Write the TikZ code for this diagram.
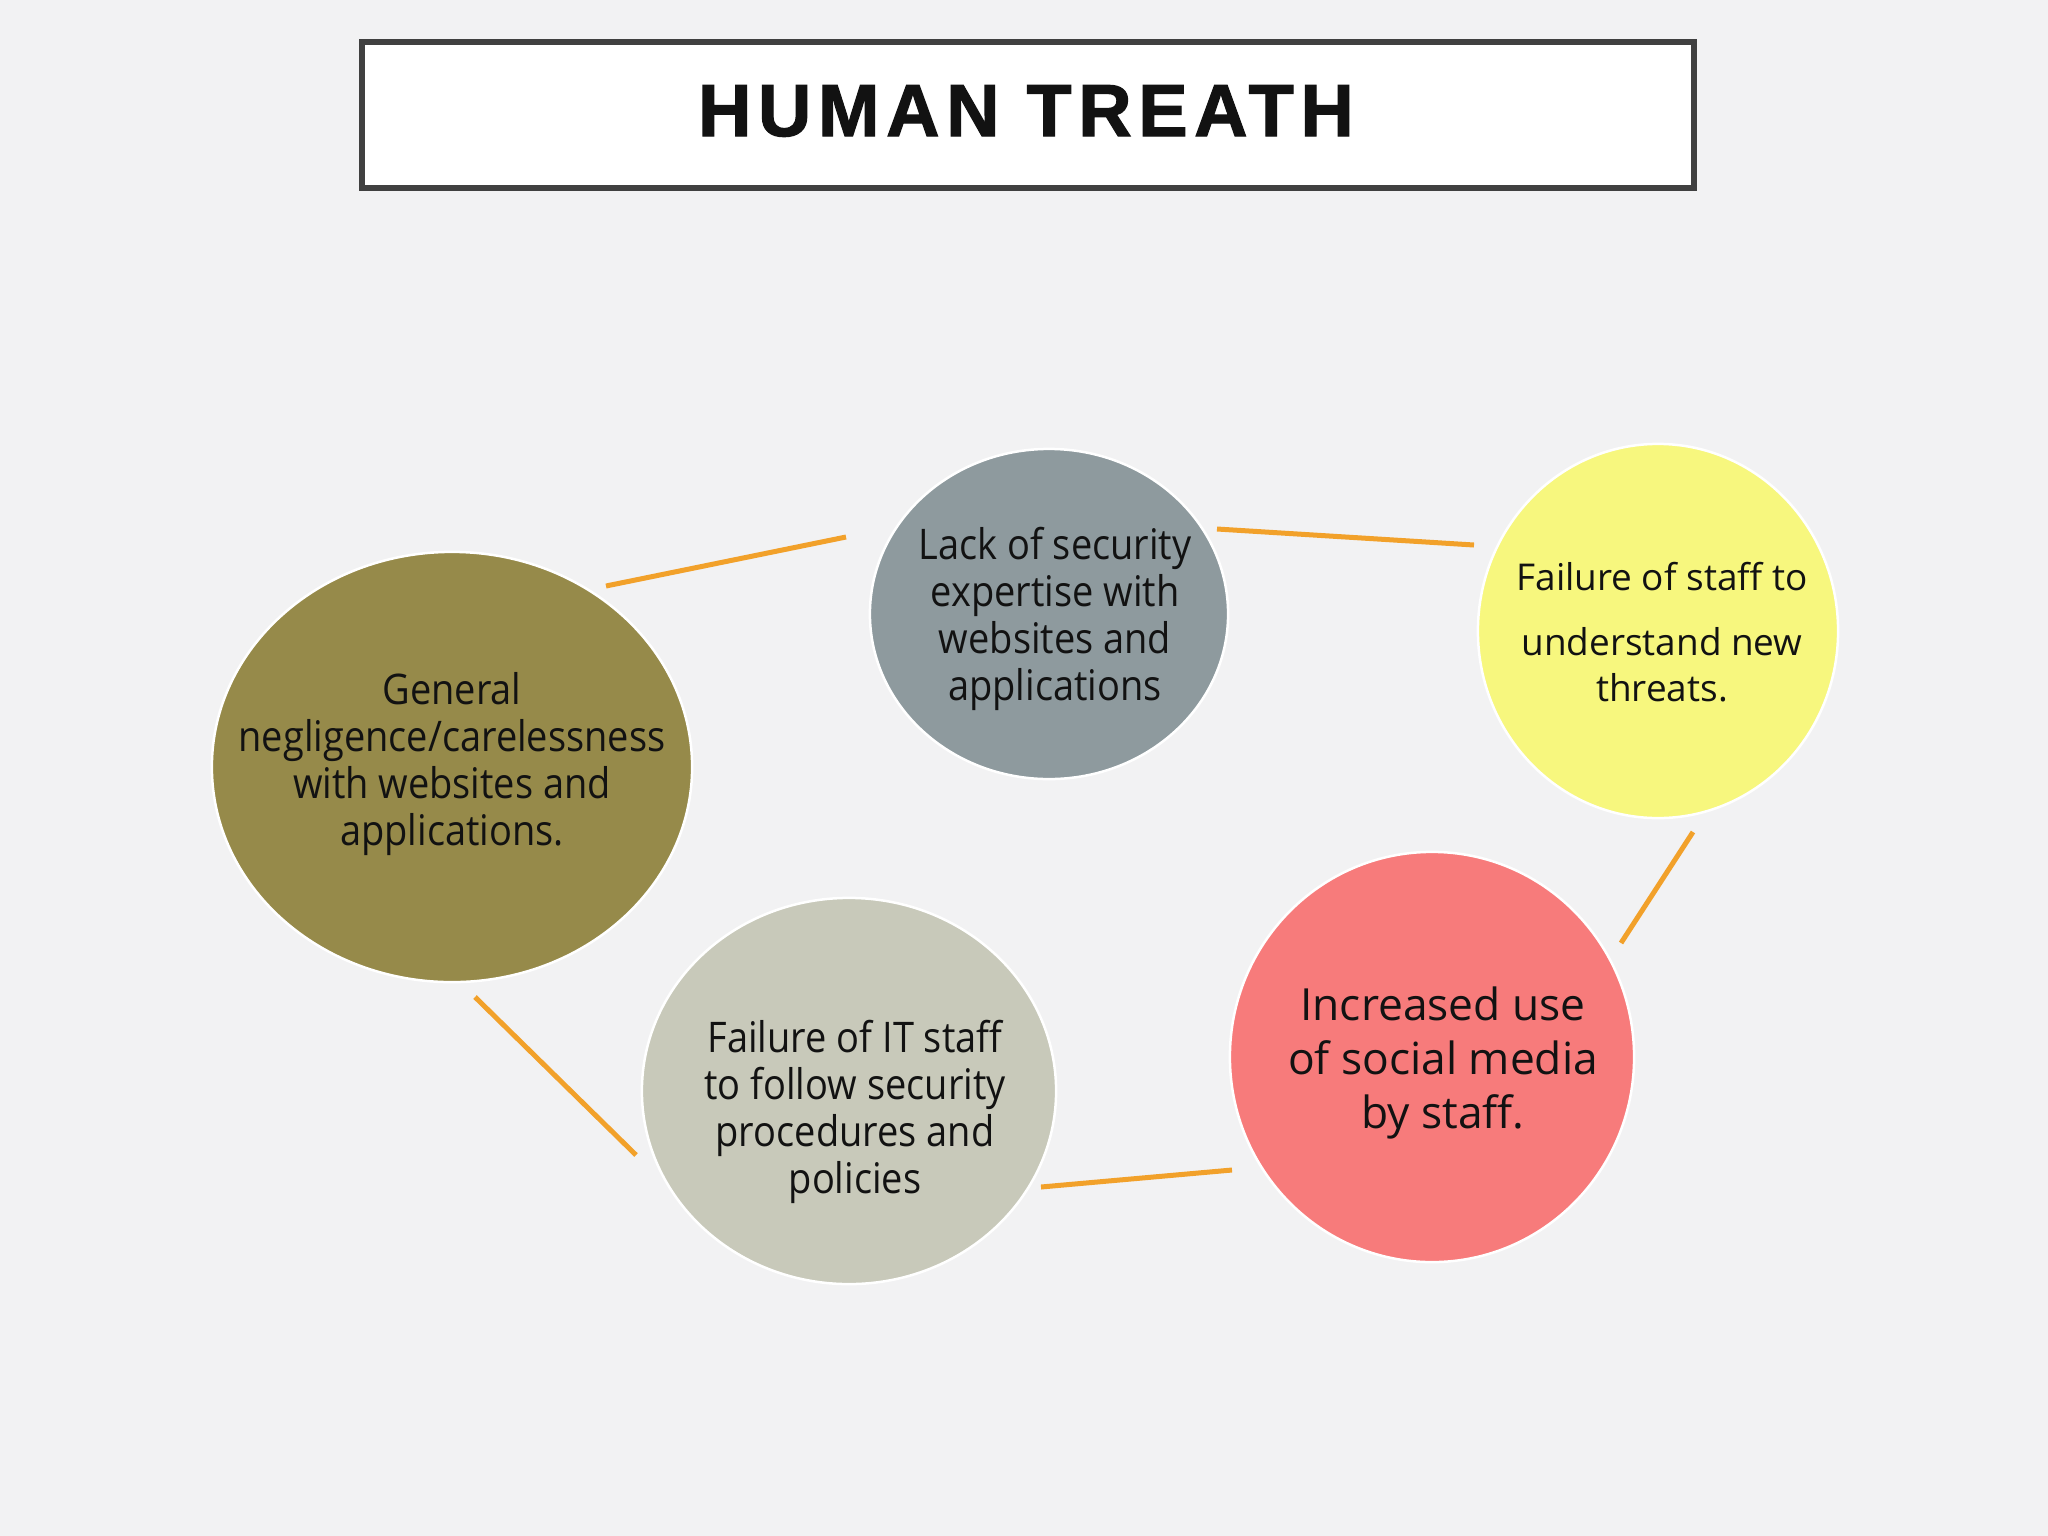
\documentclass[tikz,border=0pt]{standalone}
\usepackage{fontspec}
\setmainfont{Open Sans}
\newfontfamily\thinfont[FakeStretch=0.9]{Open Sans}
\newfontfamily\titlefont[LetterSpace=9,BoldFeatures={FakeBold=1.6}]{Liberation Sans}
\usetikzlibrary{shapes.geometric}
\definecolor{bg}{HTML}{F2F2F3}
\definecolor{olive}{HTML}{968A4A}
\definecolor{slate}{HTML}{8E9A9E}
\definecolor{lemon}{HTML}{F7F77E}
\definecolor{coral}{HTML}{F77B7B}
\definecolor{stone}{HTML}{C8C9BA}
\definecolor{link}{HTML}{F2A12A}
\definecolor{frame}{HTML}{404040}
\tikzset{
  blob/.style={ellipse, draw=white, line width=0.025cm, inner sep=0pt},
  txt/.style={align=center, text=black!93, inner sep=0pt},
  conn/.style={draw=link, line width=0.05cm},
}
\begin{document}
\begin{tikzpicture}[x=0.01cm, y=-0.01cm]
\fill[bg] (0,0) rectangle (2048,1536);
\useasboundingbox (0,0) rectangle (2048,1536);
% title
\node[draw=frame, fill=white, line width=0.06cm, minimum width=13.31cm, minimum height=1.46cm, inner sep=0pt] (title) at (1028,115) {};
\node[txt] (titletext) at (1026,111) {\titlefont\bfseries\fontsize{21}{24}\selectfont HUMAN TREATH};
% ellipses
\node[blob, fill=olive, minimum width=4.80cm, minimum height=4.30cm] (gen) at (452,767) {};
\node[blob, fill=slate, minimum width=3.58cm, minimum height=3.30cm] (lack) at (1049,614) {};
\node[blob, fill=lemon, minimum width=3.60cm, minimum height=3.74cm] (fail) at (1658,631) {};
\node[blob, fill=coral, minimum width=4.04cm, minimum height=4.10cm] (soc) at (1432,1057) {};
\node[blob, fill=stone, minimum width=4.14cm, minimum height=3.86cm] (it) at (849,1091) {};
% texts
\node[txt, font=\thinfont\fontsize{12}{13.4}\selectfont] (gent) at (452,764) {General\\negligence/carelessness\\with websites and\\applications.};
\node[txt, font=\thinfont\fontsize{12}{13.4}\selectfont] (lackt) at (1055,619) {Lack of security\\expertise with\\websites and\\applications};
\node[txt, font=\fontsize{10.5}{13}\selectfont] (failt) at (1662,632) {Failure of staff to\\[5.5pt] understand new\\threats.};
\node[txt, font=\fontsize{12.6}{15.4}\selectfont] (soct) at (1443,1063) {Increased use\\of social media\\by staff.};
\node[txt, font=\thinfont\fontsize{12}{13.4}\selectfont] (itt) at (855,1112) {Failure of IT staff\\to follow security\\procedures and\\policies};
% connector ends
\coordinate (a1) at (606,586); \coordinate (a2) at (846,537);
\coordinate (b1) at (1217,529); \coordinate (b2) at (1474,545);
\coordinate (c1) at (1693,832); \coordinate (c2) at (1621,943);
\coordinate (d1) at (1232,1170); \coordinate (d2) at (1041,1187);
\coordinate (e1) at (636,1155); \coordinate (e2) at (475,997);
\draw[conn] (a1) -- (a2);
\draw[conn] (b1) -- (b2);
\draw[conn] (c1) -- (c2);
\draw[conn] (d1) -- (d2);
\draw[conn] (e1) -- (e2);
\end{tikzpicture}
\end{document}
